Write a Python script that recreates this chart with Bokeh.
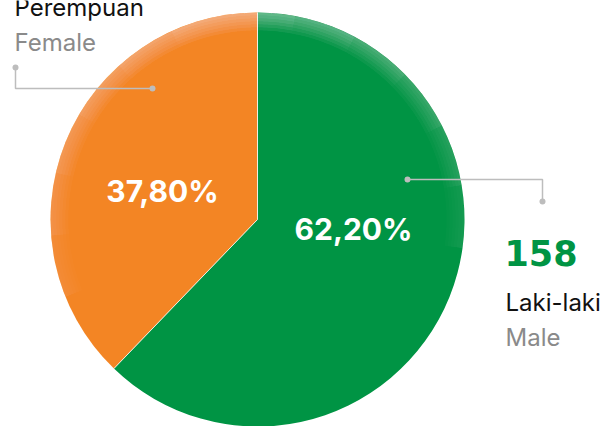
import math
from bokeh.plotting import figure
from bokeh.models import Range1d, ColumnDataSource
from bokeh.core.properties import value
from bokeh.embed import file_html
from bokeh.resources import INLINE

# ---- data ----
categories_id = ["Laki-laki", "Perempuan"]
categories_en = ["Male", "Female"]
shares = [62.20, 37.80]
male_count = [158]
colors = ["#009444", "#F38524"]

W, H = 609, 426
CX, CY, R = 257, H - 219, 207
FONT = "Inter"
OFF = 10  # baseline correction

p = figure(width=W, height=H, x_range=Range1d(0, W), y_range=Range1d(0, H),
           output_backend="svg", toolbar_location=None, min_border=0)
p.axis.visible = False
p.grid.visible = False
p.outline_line_color = None
p.background_fill_color = "white"
p.border_fill_color = "white"

# pie: start at top, clockwise
total = sum(shares)
start = math.pi / 2
starts, ends = [], []
for s in shares:
    sweep = 2 * math.pi * s / total
    starts.append(start - sweep)
    ends.append(start)
    start -= sweep
src = ColumnDataSource(dict(start=starts, end=ends, color=colors))
p.wedge(x=CX, y=CY, radius=R, start_angle="start", end_angle="end",
        fill_color="color", line_color=None, source=src)

# rim highlight (soft light from the top)
K, J = 6, 6
width_px = 18
A = 0.45
a = 1 - (1 - A) ** (1.0 / (K * J))
peak = math.radians(97)
phimax = math.radians(105)
ir, sa, ea = [], [], []
for k in range(1, K + 1):
    d = width_px * k / K
    for j in range(1, J + 1):
        half = phimax * j / J
        ir.append(R - d)
        sa.append(peak - half)
        ea.append(peak + half)
hsrc = ColumnDataSource(dict(ir=ir, sa=sa, ea=ea, al=[a] * len(ir)))
p.annular_wedge(x=CX, y=CY, inner_radius="ir", outer_radius=R, start_angle="sa",
                end_angle="ea", fill_color="white", fill_alpha="al",
                line_color=None, source=hsrc)

# separators between slices
bx = [CX + R * math.cos(t) for t in ends]
by = [CY + R * math.sin(t) for t in ends]
p.segment(x0=[CX] * len(bx), y0=[CY] * len(by), x1=bx, y1=by,
          line_color="white", line_width=1, line_alpha=0.8)

# percentage labels
pct_labels = [f"{v:.2f}%".replace(".", ",") for v in shares]
p.text(x=[353, 162], y=[H - 238 + OFF, H - 200 + OFF], text=pct_labels,
       text_color="white", text_font=value(FONT), text_font_style="bold",
       text_font_size="30px", text_align="center", text_baseline="alphabetic")

# leader lines
lc = "#BDBDBD"
p.line(x=[15, 15, 152], y=[H - 67, H - 88, H - 88], line_color=lc, line_width=1.5)
p.line(x=[407, 542, 542], y=[H - 179, H - 179, H - 201], line_color=lc, line_width=1.5)
p.scatter(x=[15, 152, 407, 542], y=[H - 67, H - 88, H - 179, H - 201],
          size=6, fill_color=lc, line_color=None)

# female labels
p.text(x=[14], y=[H - 17 + OFF], text=[categories_id[1]], text_color="#111111",
       text_font=value(FONT), text_font_size="24px", text_baseline="alphabetic")
p.text(x=[14], y=[H - 52 + OFF], text=[categories_en[1]], text_color="#8A8A8A",
       text_font=value(FONT), text_font_size="24px", text_baseline="alphabetic")

# male labels
p.text(x=[504], y=[H - 262 + OFF], text=[str(male_count[0])], text_color=colors[0],
       text_font=value("DejaVu Sans"), text_font_style="bold", text_font_size="35px",
       text_baseline="alphabetic")
p.text(x=[505], y=[H - 312 + OFF], text=[categories_id[0]], text_color="#111111",
       text_font=value(FONT), text_font_size="24px", text_baseline="alphabetic")
p.text(x=[505], y=[H - 347 + OFF], text=[categories_en[0]], text_color="#8A8A8A",
       text_font=value(FONT), text_font_size="24px", text_baseline="alphabetic")

open("out.html", "w").write(file_html(p, INLINE))
